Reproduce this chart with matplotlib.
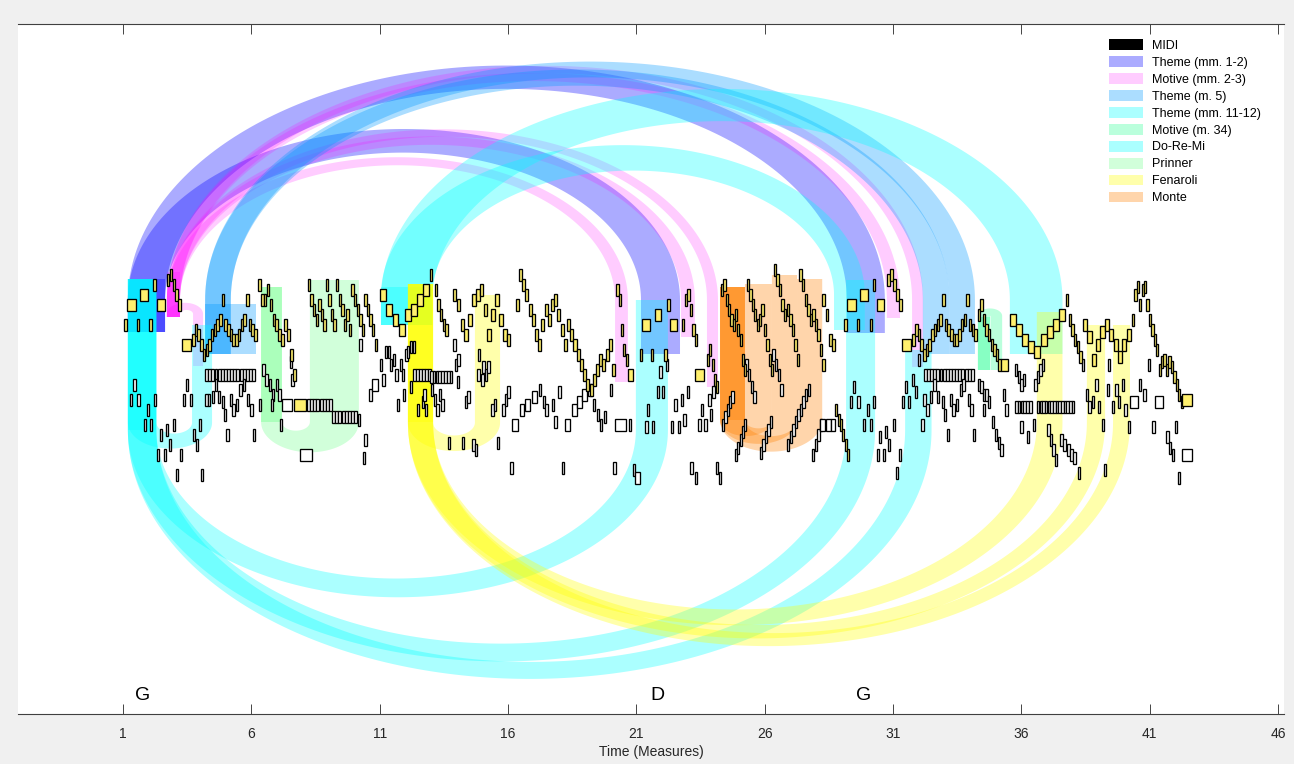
import numpy as np
import matplotlib
matplotlib.use("Agg")
import matplotlib.pyplot as plt
from matplotlib.patches import Rectangle, Polygon, Patch

plt.rcParams["font.family"] = ["Liberation Sans", "DejaVu Sans"]

# ---------------------------------------------------------------------------
# notes: (onset in measures, duration in measures, [pitches])
# MELODY = highlighted top voice, ACCOMP = other voices
# ---------------------------------------------------------------------------
MELODY = [
    (1.05, 0.1, [75]), (1.14, 0.38, [79]), (1.53, 0.1, [75]), (1.66, 0.35, [81]),
    (2.02, 0.1, [75]), (2.18, 0.1, [83]), (2.31, 0.33, [79]),
    (2.7, 0.115, [84, 85, 83, 81, 79]),
    (3.29, 0.36, [71]),
    (3.69, 0.105, [72, 74, 73, 71, 69, 70, 71, 73, 74, 75, 76, 80,
                   75, 74, 73, 72, 72, 73, 75, 76, 80, 75, 74, 73]),
    (6.25, 0.115, [83, 80, 80, 82, 79, 76, 75, 73, 72, 75, 73, 69, 65]),
    (7.66, 0.5, [59]),
    (8.2, 0.1, [83, 80, 78, 76, 79, 77, 75, 83, 80, 77, 75, 83, 80, 78,
                75, 77, 74, 82, 80, 78, 76, 74, 80, 78, 76, 74, 71]),
    (11.02, 0.24, [81, 78, 76, 74, 77, 78, 80, 82]), (12.95, 0.1, [85]),
    (13.15, 0.1, [82, 79, 77, 75, 74]),
    (13.85, 0.15, [81, 79, 75, 73, 76, 80, 81, 82, 78, 73, 77, 80, 76, 73, 72]),
    (16.3, 0.125, [79, 85, 83, 81, 78, 76, 73, 71, 75, 78, 76, 79, 80, 77, 74, 71,
                   75, 73, 71, 69, 67, 65, 63, 62, 64, 66, 68, 67, 69, 71, 66]),
    (20.22, 0.09, [82, 80, 74, 70, 68]), (20.68, 0.2, [65]),
    (21.14, 0.1, [69]), (21.2, 0.33, [75]), (21.57, 0.1, [69]), (21.72, 0.26, [77]),
    (22.08, 0.1, [69]), (22.2, 0.1, [79]), (22.31, 0.3, [75]),
    (22.78, 0.1, [75, 80, 81, 78, 74, 72]),
    (23.3, 0.37, [65]),
    (23.75, 0.09, [68, 70, 67, 64, 62.5]),
    (24.3, 0.09, [82, 83, 80, 78, 76, 75, 77, 74, 72, 68, 66]),
    (25.3, 0.095, [83, 81, 79, 77, 75, 76, 78, 74, 71, 68, 66]),
    (26.35, 0.1, [86, 84, 82, 79, 77, 78, 76, 74, 71, 68]),
    (27.35, 0.1, [85, 83, 80, 78, 76, 77, 75, 73, 70, 67]),
    (28.25, 0.12, [80, 77, 72, 71]),
    (28.75, 0.09, [58, 56, 55, 53, 51, 49]),
    (29.1, 0.1, [75]), (29.2, 0.38, [79]), (29.58, 0.1, [75]), (29.71, 0.33, [81]),
    (30.1, 0.1, [75]), (30.22, 0.1, [83]), (30.36, 0.32, [79]),
    (30.78, 0.115, [84, 85, 83, 81, 79]),
    (31.35, 0.36, [71]),
    (31.75, 0.105, [72, 74, 73, 71, 69, 70, 71, 73, 74, 75, 76, 80,
                    75, 74, 73, 72, 72, 73, 75, 76, 80, 75, 74, 73]),
    (34.3, 0.1, [77, 79, 76, 74, 73, 71, 70, 69, 67]), (35.2, 0.3, [67]),
    (35.55, 0.24, [76, 74, 72, 70.5, 69.5, 72, 73.5, 75, 77]), (37.72, 0.1, [80]),
    (37.85, 0.1, [76, 74, 72, 70.5, 68.5]),
    (38.4, 0.17, [75, 72.5, 68, 71, 73.5, 75, 73, 71, 68.5, 71, 73]),
    (40.3, 0.095, [76, 81, 82.5, 79, 82, 82.5, 79, 76, 74, 72, 70, 66, 67.5, 68,
                   66, 67.5, 66.5, 64.5, 63, 61, 59.5]),
    (42.25, 0.42, [60]),
]

ACCOMP = [
    # mm. 1-4
    (1.27, 0.1, [60]), (1.4, 0.1, [63]), (1.55, 0.1, [60]), (1.8, 0.1, [55]),
    (1.93, 0.1, [58]), (2.05, 0.1, [55]), (2.2, 0.1, [60]), (2.32, 0.1, [49]),
    (2.44, 0.1, [53]), (2.6, 0.1, [49]), (2.67, 0.1, [54]), (2.79, 0.1, [51]),
    (2.95, 0.1, [55]), (3.06, 0.1, [45]), (3.22, 0.1, [49]), (3.33, 0.1, [60]),
    (3.45, 0.1, [63]), (3.6, 0.1, [60]), (3.72, 0.1, [53]), (3.84, 0.1, [51]),
    (3.95, 0.1, [55]), (4.03, 0.1, [45]),
    # mm. 4-6
    (4.2, 0.122, [65, 65, 65, 65, 65, 65, 65, 65, 65, 65, 65, 65, 65, 65, 65, 65]),
    (4.2, 0.1, [60]), (4.31, 0.1, [60]), (4.47, 0.1, [60.5]), (4.58, 0.1, [63]),
    (4.7, 0.1, [60.5]), (4.85, 0.1, [59.5]), (4.92, 0.1, [57]), (5.02, 0.1, [53]),
    (5.17, 0.1, [60]), (5.25, 0.1, [58]), (5.4, 0.1, [59]), (5.53, 0.1, [62]),
    (5.66, 0.1, [63]), (5.83, 0.1, [60]), (5.96, 0.1, [58]), (6.05, 0.1, [53]),
    # mm. 6-11
    (6.42, 0.1, [66]), (6.55, 0.1, [64]), (6.68, 0.1, [63]), (6.8, 0.1, [61]),
    (6.95, 0.1, [63]), (7.05, 0.1, [61]), (6.75, 0.1, [59]), (7.1, 0.1, [55]),
    (6.3, 0.1, [59]), (7.5, 0.1, [67.5]), (7.55, 0.1, [64]),
    (7.2, 0.42, [59]), (7.9, 0.48, [49]),
    (8.17, 0.122, [59, 59, 59, 59, 59, 59, 59, 59]),
    (9.15, 0.122, [56.5, 56.5, 56.5, 56.5, 56.5, 56.5, 56.5, 56.5]),
    (10.15, 0.1, [56]), (10.4, 0.1, [52]), (10.35, 0.1, [48.5]), (10.2, 0.1, [71]),
    (10.6, 0.1, [61]), (10.7, 0.25, [63]),
    # mm. 11-16
    (11.01, 0.1, [67]), (11.1, 0.1, [64]), (11.2, 0.1, [69.5]), (11.32, 0.1, [69.5]),
    (11.4, 0.1, [67]), (11.52, 0.1, [68]), (11.6, 0.1, [65]), (11.79, 0.1, [67]),
    (11.87, 0.1, [65]), (12.0, 0.1, [69]), (12.06, 0.1, [69.5]), (12.18, 0.1, [70.5]),
    (12.3, 0.1, [70.5]), (12.3, 0.12, [65, 65, 65, 65, 65, 65]),
    (12.96, 0.11, [64.5, 64.5, 64.5, 64.5, 64.5, 64.5, 64.5, 64.5]),
    (13.86, 0.1, [71]), (13.93, 0.1, [67, 68]), (14.0, 0.1, [63.5]),
    (14.8, 0.1, [65]), (14.83, 0.1, [69]), (14.95, 0.1, [64]), (15.0, 0.1, [66.5]),
    (15.1, 0.1, [65, 66.5]),
    (11.67, 0.1, [59]), (11.9, 0.1, [61]), (12.18, 0.1, [62.5]), (12.45, 0.1, [58]),
    (12.65, 0.1, [59.5]), (12.7, 0.1, [61]), (12.76, 0.1, [58]),
    (13.0, 0.1, [62, 60, 58, 61, 59]), (13.66, 0.1, [51.5]), (14.2, 0.1, [51.5]),
    (14.32, 0.1, [59.5, 60.5]), (14.6, 0.1, [51]), (14.7, 0.1, [50]),
    (15.34, 0.1, [58]), (15.45, 0.1, [59]), (15.57, 0.1, [51.5]),
    (15.77, 0.1, [58, 60, 61.5]),
    # mm. 16-21
    (16.15, 0.25, [55]), (16.08, 0.1, [46.5]), (16.45, 0.2, [58]), (16.66, 0.2, [59]),
    (16.95, 0.2, [60.5]), (17.2, 0.1, [62]), (17.35, 0.1, [59.5]), (17.45, 0.1, [58]),
    (17.7, 0.1, [59]), (17.8, 0.1, [55.5]), (17.95, 0.1, [61.5]), (18.1, 0.1, [46.5]),
    (18.22, 0.2, [55]), (18.5, 0.2, [58]), (18.7, 0.2, [59.5]), (18.9, 0.2, [61]),
    (19.1, 0.2, [62]), (19.3, 0.1, [59]), (19.45, 0.1, [57]), (19.58, 0.1, [55]),
    (19.72, 0.1, [56.5]), (19.97, 0.1, [62]), (20.1, 0.1, [46.5]),
    (20.17, 0.45, [55]), (20.7, 0.1, [55]), (20.85, 0.1, [46]), (20.95, 0.2, [44.5]),
    # mm. 21-24
    (21.35, 0.1, [54.5]), (21.4, 0.1, [58]), (21.6, 0.1, [54.5]), (21.8, 0.1, [61.5]),
    (21.9, 0.1, [65.5]), (22.0, 0.1, [61.5]), (22.15, 0.1, [67]), (22.35, 0.1, [54.5]),
    (22.47, 0.1, [59]), (22.62, 0.1, [54.5]), (22.74, 0.1, [60]), (22.82, 0.1, [56]),
    (22.97, 0.1, [61.5]), (23.1, 0.1, [46.5]), (23.27, 0.1, [44.5]), (23.42, 0.1, [55]),
    (23.5, 0.1, [58]), (23.65, 0.1, [55]), (23.8, 0.1, [60]), (23.86, 0.1, [57]),
    (23.95, 0.1, [61.5]), (24.1, 0.1, [46.5]), (24.22, 0.1, [44.5]),
    # Monte, mm. 24-29
    (25.25, 0.1, [67, 65, 62.5, 60.5]), (26.3, 0.1, [69, 67, 65, 62]),
    (24.34, 0.09, [55, 56.5, 58, 59.5, 60.5]), (24.84, 0.09, [49, 50.5, 52, 53.5, 55]),
    (25.8, 0.1, [49.5, 51, 52.5, 54, 55.5]),
    (26.87, 0.1, [51, 52.5, 54, 55.5, 57, 58, 59.5, 61, 62]),
    (27.84, 0.1, [49, 51, 53, 55]),
    (28.15, 0.22, [55]), (28.38, 0.22, [55]), (28.6, 0.15, [55]),
    # mm. 29-35
    (29.32, 0.1, [59.5]), (29.44, 0.1, [62.5]), (29.6, 0.1, [59.5]), (29.83, 0.1, [55]),
    (29.98, 0.1, [58]), (30.1, 0.1, [55]), (30.2, 0.1, [59.5]), (30.37, 0.1, [49]),
    (30.45, 0.1, [52.5]), (30.6, 0.1, [49]), (30.68, 0.1, [53.5]), (30.8, 0.1, [51]),
    (31.0, 0.1, [55]), (31.1, 0.1, [45.5]), (31.23, 0.1, [49]), (31.35, 0.1, [59.5]),
    (31.46, 0.1, [62.5]), (31.58, 0.1, [59.5]), (31.74, 0.1, [64]), (31.85, 0.1, [61.5]),
    (31.97, 0.1, [68]), (32.1, 0.1, [55]),
    (32.2, 0.122, [65, 65, 65, 65, 65, 65, 65, 65, 65, 65, 65, 65, 65, 65, 65, 65]),
    (32.17, 0.1, [60]), (32.3, 0.1, [58]), (32.43, 0.1, [60.5]), (32.56, 0.1, [63]),
    (32.7, 0.1, [60.5]), (32.9, 0.1, [59.5]), (32.98, 0.1, [57]), (33.1, 0.1, [53]),
    (33.2, 0.1, [60]), (33.3, 0.1, [58]), (33.45, 0.1, [59]), (33.6, 0.1, [62]),
    (33.7, 0.1, [63]), (33.9, 0.1, [60]), (34.0, 0.1, [58]), (34.1, 0.1, [53]),
    (34.3, 0.1, [63, 62.5, 61, 61, 59.5]), (34.5, 0.1, [58]), (34.85, 0.1, [55.5]),
    (34.97, 0.1, [53, 51.5, 50]), (35.28, 0.1, [61, 58]), (35.75, 0.1, [66]),
    # mm. 35-43
    (35.85, 0.1, [64.5, 63, 64]), (35.75, 0.11, [58.5, 58.5, 58.5, 58.5, 58.5, 58.5]),
    (35.95, 0.1, [54.5]), (36.2, 0.1, [52.5]), (36.45, 0.1, [55]),
    (36.5, 0.1, [63, 64.5, 66, 67]),
    (36.6, 0.105, [58.5, 58.5, 58.5, 58.5, 58.5, 58.5, 58.5, 58.5, 58.5, 58.5,
                   58.5, 58.5, 58.5, 58.5]),
    (37.0, 0.1, [54, 52, 50, 48]), (37.5, 0.13, [52, 51, 50, 49, 48.5]),
    (38.2, 0.1, [45.5]), (38.36, 0.1, [67]), (38.5, 0.1, [61, 58.5]),
    (38.75, 0.1, [59.5]), (38.87, 0.1, [63]), (38.98, 0.1, [58.5]), (39.14, 0.1, [55]),
    (39.22, 0.1, [46]), (39.33, 0.1, [62]), (39.37, 0.1, [67]), (39.53, 0.1, [58.5]),
    (39.65, 0.1, [62]), (39.76, 0.1, [59.5]), (39.92, 0.1, [63]), (40.0, 0.1, [58]),
    (40.15, 0.1, [54.5]), (40.23, 0.32, [59.5]), (40.58, 0.1, [63]), (40.74, 0.1, [61]),
    (40.93, 0.1, [67]), (41.1, 0.1, [54.5]), (41.22, 0.31, [59.5]),
    (41.65, 0.1, [52.5, 50.5, 49]), (41.98, 0.1, [54.5]), (42.1, 0.1, [44.5]),
    (42.25, 0.4, [49]),
]

# ---------------------------------------------------------------------------
# patterns: occurrence boxes (start, end, low pitch, high pitch) and arcs
# between occurrences (source box, target box, base pitch, drawn above?)
# ---------------------------------------------------------------------------
PATTERNS = ["Theme (mm. 1-2)", "Motive (mm. 2-3)", "Theme (m. 5)",
            "Theme (mm. 11-12)", "Motive (m. 34)", "Do-Re-Mi", "Prinner",
            "Fenaroli", "Monte"]
COLORS = [(0, 0, 1), (1, 0, 1), (0, 0.6, 1), (0, 1, 1), (0, 1, 0.5),
          (0, 1, 1), (0, 1, 0.2), (1, 1, 0), (1, 0.5, 0)]
ALPHAS = [0.33, 0.2, 0.33, 0.33, 0.27, 0.33, 0.18, 0.33, 0.33]

BOXES = [
    [(1.19, 2.64, 73.6, 84.2), (21.18, 22.7, 69.2, 80.2), (29.2, 30.68, 73.4, 84.2)],
    [(2.71, 3.22, 76.6, 85.6), (3.73, 4.12, 66.8, 78.2), (20.17, 20.67, 63.6, 83),
     (22.74, 23.28, 72.6, 81), (23.75, 24.18, 62.6, 71), (30.76, 31.27, 76.4, 85),
     (31.74, 32.17, 66.6, 75)],
    [(4.2, 5.2, 69.2, 79.2), (5.2, 6.2, 69.2, 79.2), (32.16, 33.2, 69.2, 79),
     (33.2, 34.19, 69.2, 79)],
    [(11.05, 13.05, 75, 82.6), (35.55, 37.6, 69.2, 77.6), (28.7, 29.9, 74, 84)],
    [(34.3, 34.78, 66, 76.5), (34.8, 35.25, 66, 76.5)],
    [(1.19, 2.3, 54, 84.2), (3.69, 4.47, 54, 75), (20.98, 22.23, 54, 80),
     (29.17, 30.3, 54, 84), (31.47, 32.5, 54, 70)],
    [(6.38, 7.19, 55.6, 82.6), (8.28, 10.19, 55.6, 84)],
    [(12.1, 13.08, 55.5, 83.2), (14.71, 15.69, 55.5, 81), (36.6, 37.6, 55.5, 77.6),
     (38.55, 39.26, 55.5, 75), (39.57, 40.23, 55.5, 75)],
    [(24.26, 25.23, 56, 82.6), (25.23, 26.28, 56, 83.2), (26.28, 27.26, 56, 85),
     (27.26, 28.24, 56, 84.2)],
]
ARCS = [
    [(0, 1, 80, True), (0, 2, 80, True)],
    [(0, 1, 77.2, True), (0, 2, 80, True), (0, 3, 80, True), (0, 4, 80, True),
     (0, 5, 80, True), (0, 6, 80, True)],
    [(0, 2, 80, True), (0, 3, 80, True)],
    [(0, 1, 80, True), (0, 2, 81, True)],
    [(0, 1, 76.8, True)],
    [(0, 1, 55.5, False), (0, 2, 54, False), (0, 3, 54, False), (0, 4, 54, False)],
    [(0, 1, 55.6, False)],
    [(0, 1, 55.5, False), (0, 2, 55.5, False), (0, 3, 55.5, False), (0, 4, 55.5, False)],
    [(0, 1, 56, False), (0, 2, 56, False), (0, 3, 56, False)],
]
ASPECT = 3.18          # pitch units of arc height per measure of arc half-width

KEY_LABELS = ["G", "D", "G"]
KEY_POS = [1.78, 21.84, 29.87]
XTICKS = [1, 6, 11, 16, 21, 26, 31, 36, 41, 46]
NOTE_H = 2.4


def arc_polygon(src, dst, base, up):
    s = 1 if up else -1
    far1 = src[2] if up else src[3]
    far2 = dst[2] if up else dst[3]
    t = np.linspace(np.pi, 0, 160)
    cxo, rxo = (src[0] + dst[1]) / 2, (dst[1] - src[0]) / 2
    cxi, rxi = (src[1] + dst[0]) / 2, (dst[0] - src[1]) / 2
    outer = np.column_stack([cxo + rxo * np.cos(t), base + s * ASPECT * rxo * np.sin(t)])
    ti = t[::-1]
    inner = np.column_stack([cxi + rxi * np.cos(ti), base + s * ASPECT * rxi * np.sin(ti)])
    return np.vstack([[(src[0], far1)], outer, [(dst[1], far2), (dst[0], far2)],
                      inner, [(src[1], far1)]])


fig = plt.figure(figsize=(12.94, 7.64), dpi=100, facecolor="#f0f0f0")
ax = fig.add_axes([18 / 1294, 50 / 764, 1266 / 1294, 690 / 764])
ax.set_facecolor("white")

# pattern shading
handles = [Patch(facecolor="black", edgecolor="none", label="MIDI")]
for k, name in enumerate(PATTERNS):
    col, al = COLORS[k], ALPHAS[k]
    linked = {arc[1] for arc in ARCS[k]}
    for b, (m0, m1, lo, hi) in enumerate(BOXES[k]):
        if b in linked:
            continue
        ax.add_patch(Rectangle((m0, lo), m1 - m0, hi - lo, facecolor=col, alpha=al,
                               edgecolor="none", zorder=1))
    for i, j, base, up in ARCS[k]:
        pts = arc_polygon(BOXES[k][i], BOXES[k][j], base, up)
        ax.add_patch(Polygon(pts, closed=True, facecolor=col, alpha=al,
                             edgecolor="none", zorder=1))
    handles.append(Patch(facecolor=col, alpha=al, edgecolor="none", label=name))

# notes
for segs, fc in [(ACCOMP, "white"), (MELODY, "#fff06e")]:
    for onset, dur, pitches in segs:
        for n, p in enumerate(pitches):
            ax.add_patch(Rectangle((onset + n * dur, p - NOTE_H / 2), dur * 0.95, NOTE_H,
                                   facecolor=fc, edgecolor="black", linewidth=0.95,
                                   zorder=3))

for lab, pos in zip(KEY_LABELS, KEY_POS):
    ax.text(pos, 0.8, lab, fontsize=14, ha="center", va="center", zorder=4)

ax.set_xlim(-3.09, 46.23)
ax.set_ylim(-2.8, 135.2)
ax.set_xticks(XTICKS)
ax.set_yticks([])
ax.tick_params(axis="x", direction="in", length=7, width=0.6, colors="#262626",
               top=True, labelsize=10, pad=9)
for side in ["left", "right"]:
    ax.spines[side].set_visible(False)
for side in ["top", "bottom"]:
    ax.spines[side].set_color("#404040")
    ax.spines[side].set_linewidth(0.8)
ax.set_xlabel("Time (Measures)", fontsize=10, labelpad=3, color="#262626")

ax.legend(handles=handles, loc="upper left", bbox_to_anchor=(0.862, 0.978),
          frameon=False, fontsize=9, handlelength=2.7, handleheight=0.95,
          labelspacing=0.34, borderpad=0, borderaxespad=0, handletextpad=0.75)

fig.savefig("out.png", dpi=100, facecolor=fig.get_facecolor())
